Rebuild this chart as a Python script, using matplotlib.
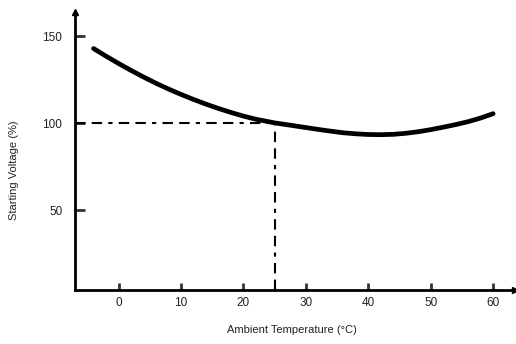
import numpy as np
import matplotlib.pyplot as plt

# curve
temp = [-4, -2, 0, 2, 4, 6, 8, 10, 12, 14, 16, 18, 20, 22, 25, 28, 30,
        33, 36, 38, 40, 42, 44, 46, 48, 50, 52, 54, 56, 58, 60]
volt = [143, 138.6, 134.4, 130.4, 126.6, 123, 119.7, 116.6, 113.7, 111,
        108.5, 106.2, 104.1, 102.3, 100.2, 98.6, 97.5, 95.9, 94.5, 93.9,
        93.5, 93.4, 93.6, 94.2, 95.1, 96.3, 97.7, 99.2, 100.9, 103, 105.5]

x_ticks = [0, 10, 20, 30, 40, 50, 60]
y_ticks = [50, 100, 150]
ref_temp = 25
ref_volt = 100

plt.rcParams['font.family'] = ['Liberation Sans', 'DejaVu Sans']

fig = plt.figure(figsize=(5.16, 3.44), dpi=100)
ax = fig.add_axes([0.145, 0.157, 0.853, 0.808])
ax.set_xlim(-7, 63.5)
ax.set_ylim(4, 164)

ax.plot(temp, volt, color='black', lw=3.4, solid_capstyle='round')

dash = (0, (5, 3, 5, 3, 2, 3))
ax.plot([-7, ref_temp], [ref_volt, ref_volt], color='black', lw=1.5, linestyle=dash)
ax.plot([ref_temp, ref_temp], [4, ref_volt], color='black', lw=1.5, linestyle=dash)

for side in ['top', 'right']:
    ax.spines[side].set_visible(False)
for side in ['left', 'bottom']:
    ax.spines[side].set_linewidth(2)

ax.set_xticks(x_ticks)
ax.set_yticks(y_ticks)
ax.tick_params(axis='x', direction='in', length=5, width=2, pad=5,
               labelsize=8.5, colors='#333333', labelcolor='#222222')
ax.tick_params(axis='y', direction='in', length=7, width=2, pad=9,
               labelsize=8.5, colors='#333333', labelcolor='#222222')

# arrow heads on the axes
ax.plot([0], [1], marker='^', color='black', markersize=5, transform=ax.transAxes, clip_on=False)
ax.plot([1], [0], marker='>', color='black', markersize=5, transform=ax.transAxes, clip_on=False)

fig.text(0.565, 0.04, 'Ambient Temperature (\u00b0C)', ha='center', va='center',
         fontsize=8, color='#222222')
fig.text(0.027, 0.505, 'Starting Voltage (%)', ha='center', va='center',
         rotation=90, fontsize=8, color='#222222')

fig.savefig('out.png', dpi=100)
